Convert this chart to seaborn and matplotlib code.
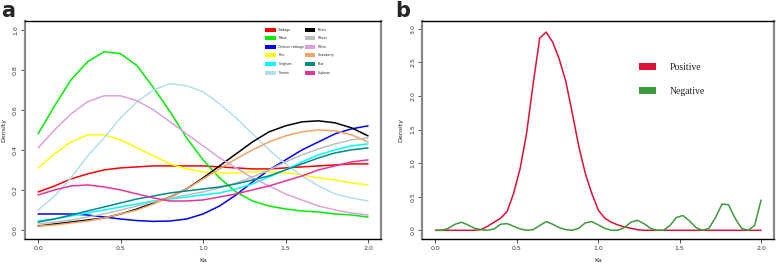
import numpy as np
import pandas as pd
import seaborn as sns
from matplotlib import pyplot as plt
from matplotlib.patches import Patch

sns.set_theme(style="white")
plt.rcParams["font.family"] = ["DejaVu Sans"]

# ---- panel a: Ka density per species (read at 0.1 steps) ----
ka_a = [round(0.1 * i, 1) for i in range(21)]

species = ["Cabbage", "Maize", "Chinese cabbage", "Rice", "Sorghum", "Tomato",
           "Potato", "Wheat", "Melon", "Strawberry", "Pear", "Soybean"]
colors_a = ["#FF0000", "#00EE00", "#0000FF", "#FFFF00", "#00FFFF", "#B2DFEE",
            "#000000", "#BEBEBE", "#DDA0DD", "#F4A460", "#008B8B", "#E8349A"]

cabbage = [0.19, 0.22, 0.255, 0.28, 0.30, 0.31, 0.315, 0.32, 0.32, 0.32, 0.32,
           0.315, 0.31, 0.305, 0.305, 0.31, 0.315, 0.32, 0.325, 0.33, 0.33]
maize = [0.48, 0.62, 0.75, 0.84, 0.89, 0.88, 0.82, 0.71, 0.59, 0.46, 0.35,
         0.26, 0.19, 0.145, 0.12, 0.105, 0.095, 0.09, 0.08, 0.075, 0.065]
chinese_cabbage = [0.08, 0.08, 0.08, 0.075, 0.065, 0.055, 0.047, 0.043, 0.045, 0.055, 0.08,
                   0.12, 0.175, 0.24, 0.30, 0.35, 0.40, 0.44, 0.48, 0.505, 0.52]
rice = [0.31, 0.38, 0.44, 0.475, 0.475, 0.45, 0.41, 0.37, 0.33, 0.305, 0.29,
        0.285, 0.285, 0.29, 0.29, 0.285, 0.275, 0.26, 0.25, 0.235, 0.225]
sorghum = [0.045, 0.055, 0.07, 0.085, 0.10, 0.115, 0.13, 0.145, 0.155, 0.165, 0.175,
           0.185, 0.205, 0.23, 0.265, 0.30, 0.34, 0.375, 0.40, 0.42, 0.43]
tomato = [0.10, 0.17, 0.26, 0.37, 0.46, 0.56, 0.64, 0.70, 0.73, 0.72, 0.69,
          0.63, 0.56, 0.48, 0.40, 0.33, 0.27, 0.22, 0.18, 0.16, 0.145]
potato = [0.02, 0.03, 0.04, 0.05, 0.06, 0.08, 0.105, 0.135, 0.165, 0.205, 0.26,
          0.32, 0.38, 0.44, 0.49, 0.52, 0.54, 0.545, 0.535, 0.51, 0.47]
wheat = [0.03, 0.04, 0.05, 0.065, 0.08, 0.10, 0.12, 0.14, 0.16, 0.175, 0.19,
         0.21, 0.235, 0.265, 0.30, 0.34, 0.375, 0.405, 0.43, 0.45, 0.46]
melon = [0.41, 0.50, 0.58, 0.64, 0.67, 0.67, 0.645, 0.60, 0.54, 0.48, 0.42,
         0.36, 0.31, 0.26, 0.22, 0.18, 0.15, 0.12, 0.10, 0.085, 0.075]
strawberry = [0.02, 0.025, 0.035, 0.045, 0.06, 0.08, 0.10, 0.13, 0.165, 0.205, 0.255,
              0.305, 0.355, 0.40, 0.44, 0.47, 0.49, 0.50, 0.495, 0.475, 0.44]
pear = [0.04, 0.055, 0.075, 0.095, 0.115, 0.135, 0.155, 0.17, 0.185, 0.195, 0.205,
        0.215, 0.23, 0.25, 0.27, 0.30, 0.33, 0.36, 0.385, 0.40, 0.41]
soybean = [0.175, 0.20, 0.22, 0.225, 0.215, 0.20, 0.18, 0.16, 0.145, 0.145, 0.15,
           0.165, 0.18, 0.20, 0.22, 0.245, 0.27, 0.30, 0.32, 0.34, 0.35]

series_a = [cabbage, maize, chinese_cabbage, rice, sorghum, tomato,
            potato, wheat, melon, strawberry, pear, soybean]

# ---- panel b: Ka density, positive vs negative (0.04 steps) ----
ka_b = [round(0.04 * i, 2) for i in range(51)]
positive = [0, 0, 0, 0, 0, 0, 0, 0.01, 0.06, 0.12, 0.18, 0.28, 0.55, 0.92, 1.45,
            2.18, 2.86, 2.95, 2.80, 2.55, 2.22, 1.75, 1.25, 0.85, 0.55, 0.30,
            0.18, 0.12, 0.08, 0.05, 0.03, 0.01, 0, 0, 0, 0, 0, 0, 0, 0, 0,
            0, 0, 0, 0, 0, 0, 0, 0, 0, 0]
negative = [0, 0, 0.03, 0.09, 0.12, 0.08, 0.03, 0.01, 0.0, 0.02, 0.09, 0.10, 0.06,
            0.02, 0.0, 0.01, 0.07, 0.13, 0.09, 0.04, 0.01, 0.0, 0.03, 0.11, 0.13,
            0.08, 0.03, 0.0, 0.0, 0.04, 0.12, 0.15, 0.10, 0.03, 0.0, 0.0, 0.07,
            0.19, 0.22, 0.14, 0.04, 0.0, 0.03, 0.19, 0.39, 0.38, 0.18, 0.03, 0.0,
            0.07, 0.45]
groups_b = ["Positive", "Negative"]
colors_b = ["#DD1133", "#3C9A3C"]

da = pd.concat([pd.DataFrame({"Ka": ka_a, "Density": v, "sp": s})
                for s, v in zip(species, series_a)])
db = pd.concat([pd.DataFrame({"Ka": ka_b, "Density": v, "grp": g})
                for g, v in zip(groups_b, [positive, negative])])

fig = plt.figure(figsize=(7.78, 2.65), dpi=100)
ax1 = fig.add_axes([0.032, 0.098, 0.458, 0.824])
ax2 = fig.add_axes([0.543, 0.098, 0.452, 0.824])

sns.lineplot(data=da, x="Ka", y="Density", hue="sp", palette=colors_a,
             hue_order=species, legend=False, lw=1.1, ax=ax1)
sns.lineplot(data=db, x="Ka", y="Density", hue="grp", palette=colors_b,
             hue_order=groups_b, legend=False, lw=1.1, ax=ax2)

def style(ax, ylim, yticks):
    ax.set_xlim(-0.08, 2.08)
    ax.set_ylim(*ylim)
    ax.set_xticks([0, 0.5, 1.0, 1.5, 2.0])
    ax.set_xticklabels(["0.0", "0.5", "1.0", "1.5", "2.0"])
    ax.set_yticks(yticks)
    ax.set_yticklabels([f"{t:.1f}" for t in yticks], rotation=90, va="center")
    ax.tick_params(direction="out", length=3, width=0.6, labelsize=4.5,
                   colors="#333333", pad=2, left=True, bottom=True)
    for s in ["top", "bottom"]:
        ax.spines[s].set_color("black")
        ax.spines[s].set_linewidth(1.0)
    for s in ["left", "right"]:
        ax.spines[s].set_color("#888888")
        ax.spines[s].set_linewidth(1.6)
    ax.set_xlabel("Ka", fontsize=4.5, labelpad=5)
    ax.set_ylabel("Density", fontsize=4.5, labelpad=5)

style(ax1, (-0.045, 1.045), [0.0, 0.2, 0.4, 0.6, 0.8, 1.0])
style(ax2, (-0.13, 3.12), [0.0, 0.5, 1.0, 1.5, 2.0, 2.5, 3.0])

h1 = [Patch(facecolor=c, edgecolor="none") for c in colors_a]
ax1.legend(h1, species, ncol=2, fontsize=2.2, frameon=False,
           handlelength=3.4, handleheight=1.6, labelspacing=1.5,
           handletextpad=0.9, columnspacing=0.2,
           loc="upper left", bbox_to_anchor=(0.67, 0.975), borderpad=0)

h2 = [Patch(facecolor=c, edgecolor="none") for c in colors_b]
ax2.legend(h2, groups_b, frameon=False,
           prop={"family": "Liberation Serif", "size": 7},
           handlelength=1.75, handleheight=0.75, labelspacing=1.6,
           handletextpad=1.45, loc="upper left",
           bbox_to_anchor=(0.602, 0.83), borderpad=0)

fig.text(0.002, 0.995, "a", fontsize=15, fontweight="bold", va="top")
fig.text(0.508, 0.995, "b", fontsize=15, fontweight="bold", va="top")

plt.savefig("out.png", dpi=100)
plt.close()
